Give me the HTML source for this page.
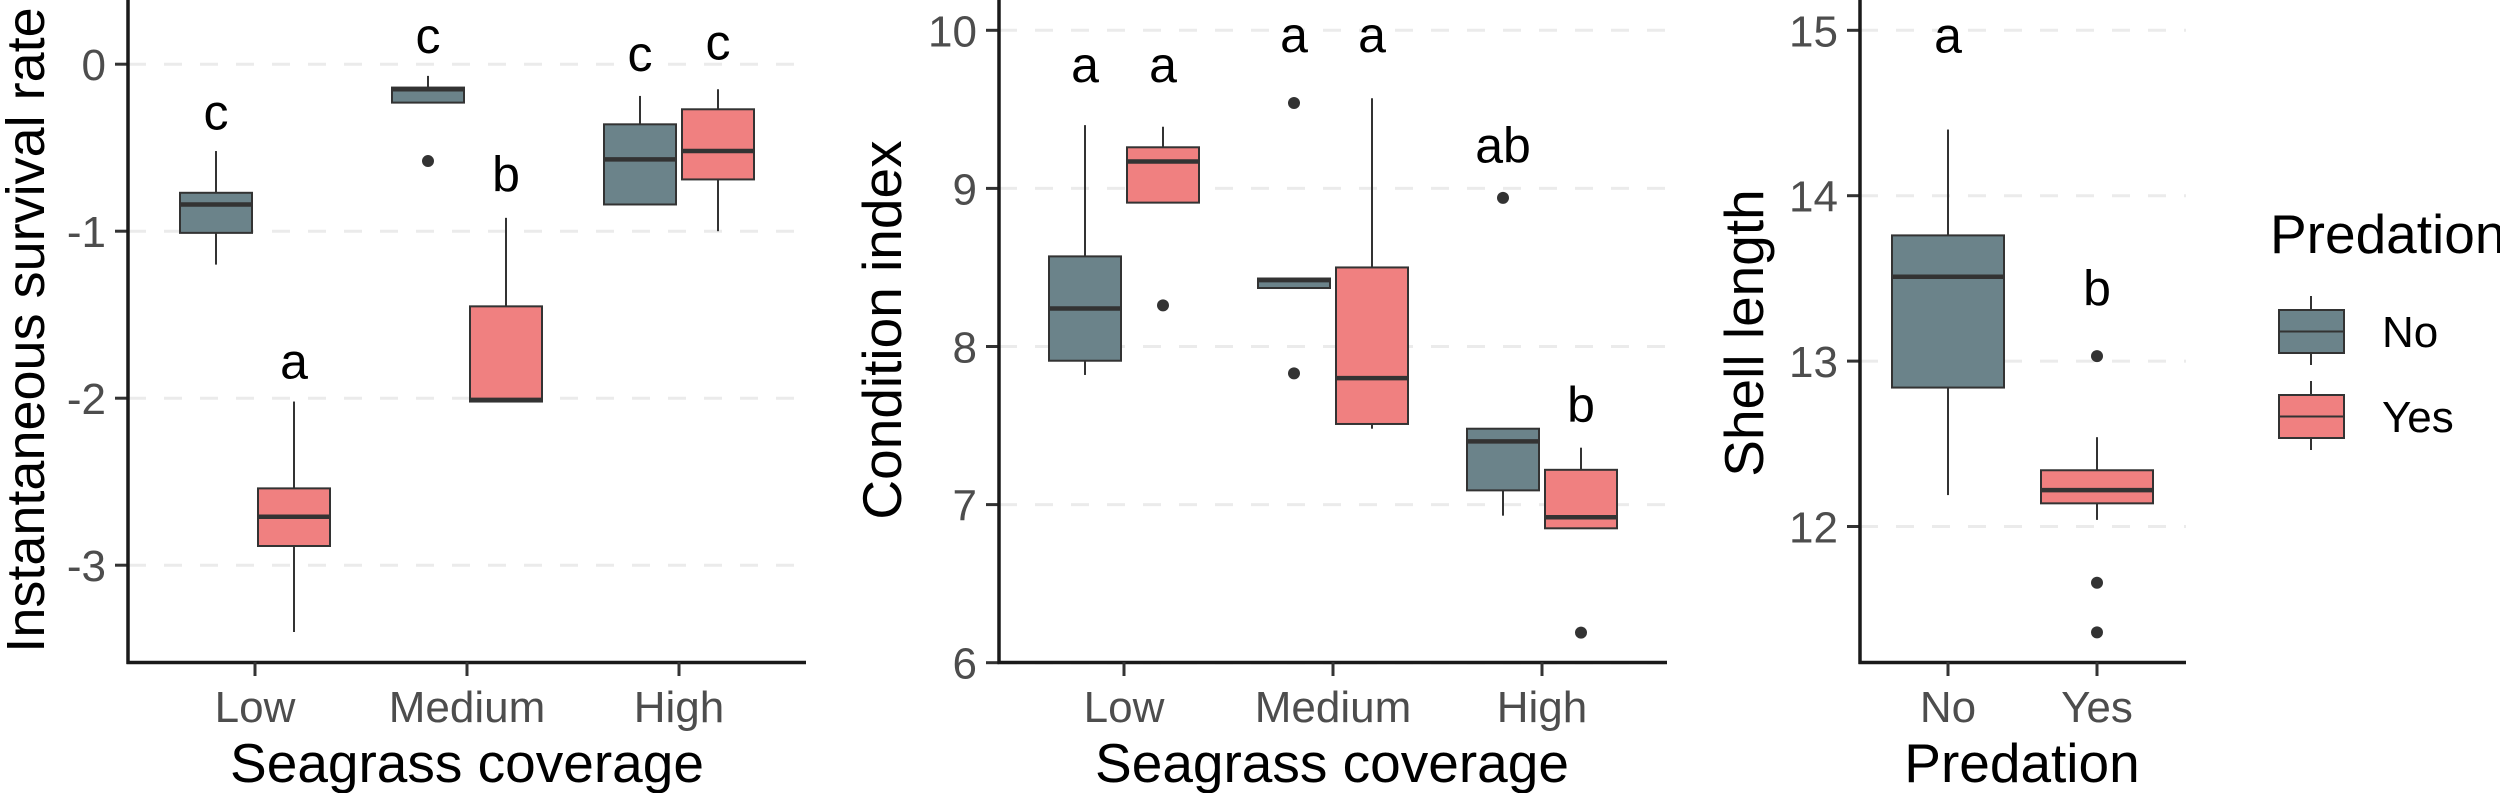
<!DOCTYPE html>
<html><head><meta charset="utf-8"><style>
html,body{margin:0;padding:0;background:#fff;}
svg{display:block;font-family:"Liberation Sans",Arial,sans-serif;}
</style></head><body>
<svg id="fig" width="2500" height="793" viewBox="0 0 2500 793" xmlns="http://www.w3.org/2000/svg"></svg>
<script>
// ---------- Panel 1 data: Instantaneous survival rate ----------
const p1Categories = ["Low","Medium","High"];
const p1Groups = ["No","Yes","No","Yes","No","Yes"];
const p1Cat = [0,0,1,1,2,2];
const p1Lo  = [-1.20,-3.40,-0.23,-2.02,-0.84,-1.00];
const p1Q1  = [-1.01,-2.885,-0.23,-2.02,-0.84,-0.69];
const p1Med = [-0.84,-2.71,-0.15,-2.01,-0.57,-0.52];
const p1Q3  = [-0.77,-2.54,-0.14,-1.45,-0.36,-0.27];
const p1Hi  = [-0.52,-2.02,-0.07,-0.92,-0.19,-0.15];
const p1Out = [[],[],[-0.58],[],[],[]];
const p1Letters = ["c","a","c","b","c","c"];
const p1LetterY = [-0.29,-1.78,0.17,-0.66,0.06,0.13];
const p1Ticks = [0,-1,-2,-3];
const p1TickLabels = ["0","-1","-2","-3"];

// ---------- Panel 2 data: Condition index ----------
const p2Categories = ["Low","Medium","High"];
const p2Groups = ["No","Yes","No","Yes","No","Yes"];
const p2Cat = [0,0,1,1,2,2];
const p2Lo  = [7.82,8.91,8.37,7.48,6.93,6.85];
const p2Q1  = [7.91,8.91,8.37,7.51,7.09,6.85];
const p2Med = [8.24,9.17,8.42,7.80,7.40,6.92];
const p2Q3  = [8.57,9.26,8.43,8.50,7.48,7.22];
const p2Hi  = [9.40,9.39,8.43,9.57,7.48,7.36];
const p2Out = [[],[8.26],[9.54,7.83],[],[8.94],[6.19]];
const p2Letters = ["a","a","a","a","ab","b"];
const p2LetterY = [9.78,9.78,9.97,9.97,9.27,7.63];
const p2Ticks = [10,9,8,7,6];
const p2TickLabels = ["10","9","8","7","6"];

// ---------- Panel 3 data: Shell length ----------
const p3Categories = ["No","Yes"];
const p3Groups = ["No","Yes"];
const p3Cat = [0,1];
const p3Lo  = [12.19,12.04];
const p3Q1  = [12.84,12.14];
const p3Med = [13.51,12.22];
const p3Q3  = [13.76,12.34];
const p3Hi  = [14.40,12.54];
const p3Out = [[],[13.03,11.66,11.36]];
const p3Letters = ["a","b"];
const p3LetterY = [14.97,13.44];
const p3Ticks = [15,14,13,12];
const p3TickLabels = ["15","14","13","12"];

const legendLabels = ["No","Yes"];

const NS="http://www.w3.org/2000/svg";
const svg=document.getElementById('fig');
const COL={No:"#6b838a",Yes:"#f08080"};
function mk(tag,attrs,parent){const e=document.createElementNS(NS,tag);for(const k in attrs)e.setAttribute(k,attrs[k]);(parent||svg).appendChild(e);return e;}

function panel(cfg){
  const g=mk('g',{});
  
  
  const y=v=>cfg.y0px+(cfg.y0v-v)*cfg.ppu;
  const x=i=>cfg.firstCat+i*cfg.spacing;
  cfg.ticks.forEach((t,i)=>{
    const ln=mk('line',{x1:cfg.axisX,x2:cfg.endX,y1:y(t),y2:y(t),stroke:"#ebebeb","stroke-width":3,"stroke-dasharray":"18,18"},g);
    
    
    const tk=mk('line',{x1:cfg.axisX-13,x2:cfg.axisX,y1:y(t),y2:y(t),stroke:"#333","stroke-width":3},g);
    
    
    const tx=mk('text',{x:cfg.axisX-22,y:y(t)+16,"text-anchor":"end","font-size":44,fill:"#4d4d4d"},g);
    tx.textContent=cfg.tickLabels[i];
    
    
  });
  for(let i=0;i<cfg.q1.length;i++){
    const cx=x(cfg.cat[i])+cfg.offset*(cfg.dodge?(cfg.groups[i]==="No"?-1:1):0);
    const w=cfg.boxW;
    const bg=mk('g',{},g);
    
    
    mk('line',{x1:cx,x2:cx,y1:y(cfg.hi[i]),y2:y(cfg.q3[i]),stroke:"#333","stroke-width":2},bg);
    mk('line',{x1:cx,x2:cx,y1:y(cfg.q1[i]),y2:y(cfg.lo[i]),stroke:"#333","stroke-width":2},bg);
    mk('rect',{x:cx-w/2,y:y(cfg.q3[i]),width:w,height:Math.max(1,y(cfg.q1[i])-y(cfg.q3[i])),fill:COL[cfg.groups[i]],stroke:"#333","stroke-width":2},bg);
    mk('line',{x1:cx-w/2,x2:cx+w/2,y1:y(cfg.med[i]),y2:y(cfg.med[i]),stroke:"#333","stroke-width":4.5},bg);
    cfg.out[i].forEach(o=>{
      const c=mk('circle',{cx:cx,cy:y(o),r:6,fill:"#333"},bg);
      
      
    });
    const lt=mk('text',{x:cx,y:y(cfg.letterY[i]),"text-anchor":"middle","dominant-baseline":"central","font-size":50,fill:"#000"},g);
    lt.textContent=cfg.letters[i];
    
    
  }
  const ya=mk('line',{x1:cfg.axisX,x2:cfg.axisX,y1:0,y2:664,stroke:"#1a1a1a","stroke-width":3.5},g);
  
  
  const xa=mk('line',{x1:cfg.axisX-1.5,x2:cfg.endX,y1:662.5,y2:662.5,stroke:"#1a1a1a","stroke-width":3.5},g);
  
  
  cfg.categories.forEach((c,i)=>{
    const tk=mk('line',{x1:x(i),x2:x(i),y1:662,y2:676,stroke:"#333","stroke-width":3},g);
    
    
    const t=mk('text',{x:x(i),y:722,"text-anchor":"middle","font-size":44,fill:"#4d4d4d"},g);
    t.textContent=c;
    
    
  });
  const xt=mk('text',{x:cfg.xTitleX,y:782,"text-anchor":"middle","font-size":55,fill:"#000"},g);
  xt.textContent=cfg.xTitle;
  
  
  const yt=mk('text',{x:0,y:0,"text-anchor":"middle","font-size":cfg.yTitleSize,fill:"#000",transform:`translate(${cfg.yTitleX},${cfg.yTitleY}) rotate(-90)`},g);
  yt.textContent=cfg.yTitle;
  
  
}

panel({name:'survival-panel',axisX:128,endX:806,firstCat:255,spacing:212,boxW:72,offset:39,dodge:true,
  y0px:64.2,y0v:0,ppu:167,ticks:p1Ticks,tickLabels:p1TickLabels,categories:p1Categories,groups:p1Groups,cat:p1Cat,
  lo:p1Lo,q1:p1Q1,med:p1Med,q3:p1Q3,hi:p1Hi,out:p1Out,letters:p1Letters,letterY:p1LetterY,
  xTitle:"Seagrass coverage",xTitleX:467,yTitle:"Instantaneous survival rate",yTitleX:44,yTitleY:330,yTitleSize:54});
panel({name:'condition-panel',axisX:999,endX:1667,firstCat:1124,spacing:209,boxW:72,offset:39,dodge:true,
  y0px:30.3,y0v:10,ppu:158.1,ticks:p2Ticks,tickLabels:p2TickLabels,categories:p2Categories,groups:p2Groups,cat:p2Cat,
  lo:p2Lo,q1:p2Q1,med:p2Med,q3:p2Q3,hi:p2Hi,out:p2Out,letters:p2Letters,letterY:p2LetterY,
  xTitle:"Seagrass coverage",xTitleX:1332,yTitle:"Condition index",yTitleX:901,yTitleY:330,yTitleSize:55});
panel({name:'shell-length-panel',axisX:1860,endX:2186,firstCat:1948,spacing:149,boxW:112,offset:0,dodge:false,
  y0px:30.3,y0v:15,ppu:165.4,ticks:p3Ticks,tickLabels:p3TickLabels,categories:p3Categories,groups:p3Groups,cat:p3Cat,
  lo:p3Lo,q1:p3Q1,med:p3Med,q3:p3Q3,hi:p3Hi,out:p3Out,letters:p3Letters,letterY:p3LetterY,
  xTitle:"Predation",xTitleX:2022,yTitle:"Shell length",yTitleX:1763,yTitleY:333,yTitleSize:55});

const lg=mk('g',{});


const lt=mk('text',{x:2270,y:253,"font-size":55,fill:"#000"},lg);
lt.textContent="Predation";


legendLabels.forEach((lab,i)=>{
  const top=310+i*85;
  const e=mk('g',{},lg);
  
  
  mk('line',{x1:2311,x2:2311,y1:top-14,y2:top+55,stroke:"#333","stroke-width":2},e);
  mk('rect',{x:2279,y:top,width:65,height:43,fill:COL[lab],stroke:"#333","stroke-width":2},e);
  mk('line',{x1:2279,x2:2344,y1:top+21.5,y2:top+21.5,stroke:"#333","stroke-width":2},e);
  const t=mk('text',{x:2382,y:top+37,"font-size":44,fill:"#000"},e);
  t.textContent=lab;
});
</script>
</body></html>
